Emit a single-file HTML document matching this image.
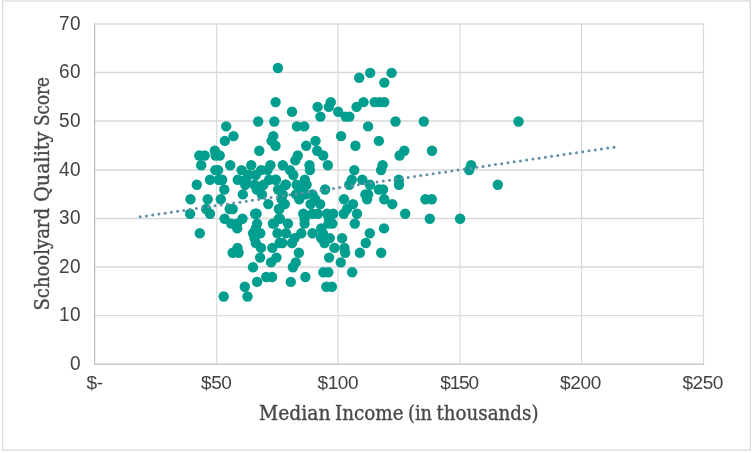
<!DOCTYPE html>
<html><head><meta charset="utf-8"><title>Schoolyard Quality Score vs Median Income</title>
<style>
html,body{margin:0;padding:0;background:#fff;}
body{width:754px;height:453px;overflow:hidden;}
svg{display:block;}
.tick{font-family:"Liberation Sans",sans-serif;font-size:19px;fill:#424242;}
.ty{letter-spacing:0.25px;}
.title{font-family:"DejaVu Serif Condensed","DejaVu Serif","Liberation Serif",serif;font-stretch:condensed;font-size:20px;fill:#484848;stroke:#484848;stroke-width:0.35px;}
</style></head>
<body>
<svg width="754" height="453" viewBox="0 0 754 453">
<rect x="0" y="0" width="754" height="453" fill="#ffffff"/>
<rect x="2.65" y="1.0" width="747.65" height="449.1" fill="#ffffff" stroke="#d9d9d9" stroke-width="1.25"/>
<g stroke="#d9d9d9" stroke-width="1.3" fill="none">
<line x1="94.63" y1="315.55" x2="704.05" y2="315.55"/>
<line x1="94.63" y1="267.00" x2="704.05" y2="267.00"/>
<line x1="94.63" y1="218.50" x2="704.05" y2="218.50"/>
<line x1="94.63" y1="170.00" x2="704.05" y2="170.00"/>
<line x1="94.63" y1="121.00" x2="704.05" y2="121.00"/>
<line x1="94.63" y1="72.50" x2="704.05" y2="72.50"/>
<line x1="94.63" y1="24.00" x2="704.05" y2="24.00"/>
<line x1="216.75" y1="23.45" x2="216.75" y2="364.07" stroke-width="1.2"/>
<line x1="338.00" y1="23.45" x2="338.00" y2="364.07" stroke-width="1.2"/>
<line x1="460.00" y1="23.45" x2="460.00" y2="364.07" stroke-width="1.2"/>
<line x1="581.60" y1="23.45" x2="581.60" y2="364.07" stroke-width="1.2"/>
<line x1="703.50" y1="23.45" x2="703.50" y2="364.07" stroke-width="1.2"/>
</g>
<path d="M94.63 23.45V364.07H704.05" stroke="#bfbfbf" stroke-width="1.25" fill="none" stroke-linejoin="round"/>
<g fill="#009e8e">
<circle cx="277.9" cy="68.0" r="5.2"/><circle cx="275.6" cy="102.1" r="5.2"/><circle cx="292.0" cy="111.8" r="5.2"/><circle cx="258.2" cy="121.5" r="5.2"/><circle cx="274.3" cy="121.5" r="5.2"/><circle cx="226.2" cy="126.4" r="5.2"/><circle cx="296.9" cy="126.4" r="5.2"/><circle cx="304.2" cy="126.4" r="5.2"/><circle cx="370.2" cy="72.9" r="5.2"/><circle cx="391.6" cy="72.9" r="5.2"/><circle cx="359.2" cy="77.8" r="5.2"/><circle cx="384.3" cy="82.6" r="5.2"/><circle cx="330.8" cy="102.1" r="5.2"/><circle cx="363.5" cy="102.1" r="5.2"/><circle cx="374.6" cy="102.1" r="5.2"/><circle cx="379.6" cy="102.1" r="5.2"/><circle cx="384.3" cy="102.1" r="5.2"/><circle cx="317.6" cy="106.9" r="5.2"/><circle cx="328.8" cy="106.9" r="5.2"/><circle cx="356.6" cy="106.9" r="5.2"/><circle cx="338.2" cy="111.8" r="5.2"/><circle cx="320.4" cy="116.6" r="5.2"/><circle cx="345.6" cy="116.6" r="5.2"/><circle cx="349.4" cy="116.6" r="5.2"/><circle cx="395.5" cy="121.5" r="5.2"/><circle cx="368.1" cy="126.4" r="5.2"/><circle cx="423.8" cy="121.5" r="5.2"/><circle cx="518.5" cy="121.5" r="5.2"/><circle cx="233.5" cy="136.1" r="5.2"/><circle cx="224.8" cy="140.9" r="5.2"/><circle cx="273.3" cy="136.1" r="5.2"/><circle cx="271.6" cy="140.9" r="5.2"/><circle cx="275.5" cy="145.8" r="5.2"/><circle cx="259.3" cy="150.7" r="5.2"/><circle cx="214.8" cy="150.7" r="5.2"/><circle cx="199.3" cy="155.5" r="5.2"/><circle cx="204.7" cy="155.5" r="5.2"/><circle cx="215.6" cy="155.5" r="5.2"/><circle cx="219.7" cy="155.5" r="5.2"/><circle cx="201.2" cy="165.2" r="5.2"/><circle cx="230.2" cy="165.2" r="5.2"/><circle cx="251.2" cy="165.2" r="5.2"/><circle cx="270.4" cy="165.2" r="5.2"/><circle cx="282.8" cy="165.2" r="5.2"/><circle cx="215.3" cy="170.1" r="5.2"/><circle cx="218.1" cy="170.1" r="5.2"/><circle cx="241.6" cy="170.1" r="5.2"/><circle cx="261.1" cy="170.1" r="5.2"/><circle cx="267.5" cy="170.1" r="5.2"/><circle cx="210.0" cy="179.8" r="5.2"/><circle cx="218.7" cy="179.8" r="5.2"/><circle cx="222.2" cy="179.8" r="5.2"/><circle cx="237.8" cy="179.8" r="5.2"/><circle cx="245.8" cy="179.8" r="5.2"/><circle cx="248.5" cy="175.0" r="5.2"/><circle cx="255.8" cy="175.0" r="5.2"/><circle cx="341.1" cy="136.1" r="5.2"/><circle cx="315.5" cy="140.9" r="5.2"/><circle cx="306.2" cy="145.8" r="5.2"/><circle cx="355.4" cy="145.8" r="5.2"/><circle cx="317.2" cy="150.7" r="5.2"/><circle cx="297.8" cy="155.5" r="5.2"/><circle cx="323.2" cy="155.5" r="5.2"/><circle cx="295.3" cy="160.4" r="5.2"/><circle cx="309.5" cy="165.2" r="5.2"/><circle cx="327.8" cy="165.2" r="5.2"/><circle cx="290.0" cy="170.1" r="5.2"/><circle cx="309.9" cy="170.1" r="5.2"/><circle cx="354.3" cy="170.1" r="5.2"/><circle cx="293.3" cy="175.0" r="5.2"/><circle cx="378.9" cy="140.9" r="5.2"/><circle cx="404.3" cy="150.7" r="5.2"/><circle cx="432.0" cy="150.7" r="5.2"/><circle cx="399.6" cy="155.5" r="5.2"/><circle cx="382.6" cy="165.2" r="5.2"/><circle cx="381.1" cy="170.1" r="5.2"/><circle cx="471.1" cy="165.2" r="5.2"/><circle cx="469.2" cy="170.1" r="5.2"/><circle cx="497.8" cy="184.7" r="5.2"/><circle cx="460.1" cy="218.7" r="5.2"/><circle cx="196.8" cy="184.7" r="5.2"/><circle cx="224.3" cy="189.5" r="5.2"/><circle cx="242.8" cy="194.4" r="5.2"/><circle cx="190.5" cy="199.3" r="5.2"/><circle cx="207.7" cy="199.3" r="5.2"/><circle cx="220.8" cy="199.3" r="5.2"/><circle cx="268.3" cy="204.1" r="5.2"/><circle cx="229.7" cy="209.0" r="5.2"/><circle cx="232.7" cy="209.0" r="5.2"/><circle cx="206.2" cy="209.0" r="5.2"/><circle cx="210.0" cy="213.8" r="5.2"/><circle cx="190.1" cy="213.8" r="5.2"/><circle cx="255.2" cy="213.8" r="5.2"/><circle cx="256.6" cy="213.8" r="5.2"/><circle cx="224.6" cy="218.7" r="5.2"/><circle cx="242.5" cy="218.7" r="5.2"/><circle cx="231.2" cy="223.6" r="5.2"/><circle cx="237.2" cy="223.6" r="5.2"/><circle cx="257.1" cy="223.6" r="5.2"/><circle cx="272.9" cy="223.6" r="5.2"/><circle cx="278.9" cy="209.0" r="5.2"/><circle cx="278.9" cy="218.7" r="5.2"/><circle cx="269.1" cy="179.8" r="5.2"/><circle cx="275.9" cy="179.8" r="5.2"/><circle cx="245.2" cy="184.7" r="5.2"/><circle cx="254.5" cy="184.7" r="5.2"/><circle cx="263.5" cy="184.7" r="5.2"/><circle cx="285.8" cy="184.7" r="5.2"/><circle cx="256.8" cy="189.5" r="5.2"/><circle cx="261.9" cy="194.4" r="5.2"/><circle cx="281.6" cy="199.3" r="5.2"/><circle cx="275.4" cy="179.8" r="5.2"/><circle cx="304.8" cy="179.8" r="5.2"/><circle cx="351.8" cy="179.8" r="5.2"/><circle cx="362.3" cy="179.8" r="5.2"/><circle cx="285.4" cy="184.7" r="5.2"/><circle cx="296.6" cy="184.7" r="5.2"/><circle cx="306.6" cy="184.7" r="5.2"/><circle cx="349.3" cy="184.7" r="5.2"/><circle cx="369.9" cy="184.7" r="5.2"/><circle cx="325.1" cy="189.5" r="5.2"/><circle cx="278.1" cy="189.5" r="5.2"/><circle cx="301.9" cy="189.5" r="5.2"/><circle cx="305.9" cy="194.4" r="5.2"/><circle cx="296.0" cy="194.4" r="5.2"/><circle cx="312.5" cy="194.4" r="5.2"/><circle cx="282.8" cy="194.4" r="5.2"/><circle cx="365.4" cy="194.4" r="5.2"/><circle cx="368.2" cy="194.4" r="5.2"/><circle cx="299.3" cy="199.3" r="5.2"/><circle cx="315.2" cy="199.3" r="5.2"/><circle cx="344.0" cy="199.3" r="5.2"/><circle cx="367.1" cy="199.3" r="5.2"/><circle cx="284.8" cy="204.1" r="5.2"/><circle cx="310.6" cy="204.1" r="5.2"/><circle cx="320.2" cy="204.1" r="5.2"/><circle cx="353.0" cy="204.1" r="5.2"/><circle cx="279.4" cy="209.0" r="5.2"/><circle cx="347.0" cy="209.0" r="5.2"/><circle cx="303.3" cy="213.8" r="5.2"/><circle cx="312.5" cy="213.8" r="5.2"/><circle cx="317.8" cy="213.8" r="5.2"/><circle cx="327.1" cy="213.8" r="5.2"/><circle cx="333.1" cy="213.8" r="5.2"/><circle cx="343.8" cy="213.8" r="5.2"/><circle cx="357.0" cy="213.8" r="5.2"/><circle cx="279.9" cy="218.7" r="5.2"/><circle cx="304.6" cy="218.7" r="5.2"/><circle cx="329.1" cy="218.7" r="5.2"/><circle cx="288.0" cy="223.6" r="5.2"/><circle cx="274.1" cy="223.6" r="5.2"/><circle cx="304.6" cy="223.6" r="5.2"/><circle cx="328.5" cy="223.6" r="5.2"/><circle cx="332.4" cy="223.6" r="5.2"/><circle cx="354.8" cy="223.6" r="5.2"/><circle cx="398.8" cy="179.8" r="5.2"/><circle cx="399.0" cy="184.7" r="5.2"/><circle cx="378.8" cy="189.5" r="5.2"/><circle cx="383.0" cy="189.5" r="5.2"/><circle cx="384.2" cy="199.3" r="5.2"/><circle cx="425.4" cy="199.3" r="5.2"/><circle cx="431.8" cy="199.3" r="5.2"/><circle cx="392.3" cy="204.1" r="5.2"/><circle cx="405.2" cy="213.8" r="5.2"/><circle cx="429.8" cy="218.7" r="5.2"/><circle cx="384.0" cy="228.4" r="5.2"/><circle cx="237.2" cy="228.4" r="5.2"/><circle cx="255.8" cy="228.4" r="5.2"/><circle cx="199.8" cy="233.3" r="5.2"/><circle cx="253.1" cy="233.3" r="5.2"/><circle cx="260.3" cy="233.3" r="5.2"/><circle cx="277.5" cy="233.3" r="5.2"/><circle cx="254.5" cy="238.1" r="5.2"/><circle cx="255.8" cy="243.0" r="5.2"/><circle cx="279.6" cy="243.0" r="5.2"/><circle cx="237.5" cy="247.9" r="5.2"/><circle cx="261.0" cy="247.9" r="5.2"/><circle cx="272.3" cy="247.9" r="5.2"/><circle cx="232.7" cy="252.7" r="5.2"/><circle cx="238.6" cy="252.7" r="5.2"/><circle cx="260.1" cy="257.6" r="5.2"/><circle cx="276.4" cy="257.6" r="5.2"/><circle cx="271.0" cy="262.4" r="5.2"/><circle cx="253.0" cy="267.3" r="5.2"/><circle cx="266.2" cy="277.0" r="5.2"/><circle cx="272.1" cy="277.0" r="5.2"/><circle cx="321.2" cy="228.4" r="5.2"/><circle cx="322.8" cy="233.3" r="5.2"/><circle cx="286.0" cy="233.3" r="5.2"/><circle cx="301.3" cy="233.3" r="5.2"/><circle cx="312.5" cy="233.3" r="5.2"/><circle cx="369.8" cy="233.3" r="5.2"/><circle cx="294.6" cy="238.1" r="5.2"/><circle cx="321.2" cy="238.1" r="5.2"/><circle cx="329.8" cy="238.1" r="5.2"/><circle cx="342.1" cy="238.1" r="5.2"/><circle cx="282.3" cy="243.0" r="5.2"/><circle cx="292.0" cy="243.0" r="5.2"/><circle cx="324.5" cy="243.0" r="5.2"/><circle cx="365.8" cy="243.0" r="5.2"/><circle cx="334.4" cy="247.9" r="5.2"/><circle cx="344.4" cy="247.9" r="5.2"/><circle cx="298.9" cy="252.7" r="5.2"/><circle cx="345.2" cy="252.7" r="5.2"/><circle cx="359.9" cy="252.7" r="5.2"/><circle cx="381.2" cy="252.7" r="5.2"/><circle cx="329.1" cy="257.6" r="5.2"/><circle cx="295.8" cy="262.4" r="5.2"/><circle cx="340.8" cy="262.4" r="5.2"/><circle cx="292.9" cy="267.3" r="5.2"/><circle cx="323.3" cy="272.2" r="5.2"/><circle cx="328.3" cy="272.2" r="5.2"/><circle cx="352.2" cy="272.2" r="5.2"/><circle cx="305.4" cy="277.0" r="5.2"/><circle cx="257.1" cy="281.9" r="5.2"/><circle cx="290.8" cy="281.9" r="5.2"/><circle cx="244.8" cy="286.7" r="5.2"/><circle cx="326.3" cy="286.7" r="5.2"/><circle cx="331.9" cy="286.7" r="5.2"/><circle cx="223.7" cy="296.5" r="5.2"/><circle cx="247.5" cy="296.5" r="5.2"/>
</g>
<g fill="#6390aa">
<circle cx="140.20" cy="216.80" r="1.5"/><circle cx="146.43" cy="215.88" r="1.5"/><circle cx="152.67" cy="214.97" r="1.5"/><circle cx="158.90" cy="214.05" r="1.5"/><circle cx="165.13" cy="213.14" r="1.5"/><circle cx="171.36" cy="212.22" r="1.5"/><circle cx="177.60" cy="211.31" r="1.5"/><circle cx="183.83" cy="210.39" r="1.5"/><circle cx="190.06" cy="209.47" r="1.5"/><circle cx="196.30" cy="208.56" r="1.5"/><circle cx="202.53" cy="207.64" r="1.5"/><circle cx="208.76" cy="206.73" r="1.5"/><circle cx="214.99" cy="205.81" r="1.5"/><circle cx="221.23" cy="204.89" r="1.5"/><circle cx="227.46" cy="203.98" r="1.5"/><circle cx="233.69" cy="203.06" r="1.5"/><circle cx="239.93" cy="202.15" r="1.5"/><circle cx="246.16" cy="201.23" r="1.5"/><circle cx="252.39" cy="200.32" r="1.5"/><circle cx="258.62" cy="199.40" r="1.5"/><circle cx="264.86" cy="198.48" r="1.5"/><circle cx="271.09" cy="197.57" r="1.5"/><circle cx="277.32" cy="196.65" r="1.5"/><circle cx="283.56" cy="195.74" r="1.5"/><circle cx="289.79" cy="194.82" r="1.5"/><circle cx="296.02" cy="193.91" r="1.5"/><circle cx="302.26" cy="192.99" r="1.5"/><circle cx="308.49" cy="192.07" r="1.5"/><circle cx="314.72" cy="191.16" r="1.5"/><circle cx="320.95" cy="190.24" r="1.5"/><circle cx="327.19" cy="189.33" r="1.5"/><circle cx="333.42" cy="188.41" r="1.5"/><circle cx="339.65" cy="187.49" r="1.5"/><circle cx="345.89" cy="186.58" r="1.5"/><circle cx="352.12" cy="185.66" r="1.5"/><circle cx="358.35" cy="184.75" r="1.5"/><circle cx="364.58" cy="183.83" r="1.5"/><circle cx="370.82" cy="182.92" r="1.5"/><circle cx="377.05" cy="182.00" r="1.5"/><circle cx="383.28" cy="181.08" r="1.5"/><circle cx="389.52" cy="180.17" r="1.5"/><circle cx="395.75" cy="179.25" r="1.5"/><circle cx="401.98" cy="178.34" r="1.5"/><circle cx="408.21" cy="177.42" r="1.5"/><circle cx="414.45" cy="176.51" r="1.5"/><circle cx="420.68" cy="175.59" r="1.5"/><circle cx="426.91" cy="174.67" r="1.5"/><circle cx="433.15" cy="173.76" r="1.5"/><circle cx="439.38" cy="172.84" r="1.5"/><circle cx="445.61" cy="171.93" r="1.5"/><circle cx="451.84" cy="171.01" r="1.5"/><circle cx="458.08" cy="170.09" r="1.5"/><circle cx="464.31" cy="169.18" r="1.5"/><circle cx="470.54" cy="168.26" r="1.5"/><circle cx="476.78" cy="167.35" r="1.5"/><circle cx="483.01" cy="166.43" r="1.5"/><circle cx="489.24" cy="165.52" r="1.5"/><circle cx="495.47" cy="164.60" r="1.5"/><circle cx="501.71" cy="163.68" r="1.5"/><circle cx="507.94" cy="162.77" r="1.5"/><circle cx="514.17" cy="161.85" r="1.5"/><circle cx="520.41" cy="160.94" r="1.5"/><circle cx="526.64" cy="160.02" r="1.5"/><circle cx="532.87" cy="159.11" r="1.5"/><circle cx="539.11" cy="158.19" r="1.5"/><circle cx="545.34" cy="157.27" r="1.5"/><circle cx="551.57" cy="156.36" r="1.5"/><circle cx="557.80" cy="155.44" r="1.5"/><circle cx="564.04" cy="154.53" r="1.5"/><circle cx="570.27" cy="153.61" r="1.5"/><circle cx="576.50" cy="152.69" r="1.5"/><circle cx="582.74" cy="151.78" r="1.5"/><circle cx="588.97" cy="150.86" r="1.5"/><circle cx="595.20" cy="149.95" r="1.5"/><circle cx="601.43" cy="149.03" r="1.5"/><circle cx="607.67" cy="148.12" r="1.5"/><circle cx="613.90" cy="147.20" r="1.5"/>
</g>
<g class="tick ty" text-anchor="end">
<text transform="translate(80.70,369.57) scale(1,1.050)">0</text>
<text transform="translate(80.70,321.05) scale(1,1.050)">10</text>
<text transform="translate(80.70,272.50) scale(1,1.050)">20</text>
<text transform="translate(80.70,224.00) scale(1,1.050)">30</text>
<text transform="translate(80.70,175.50) scale(1,1.050)">40</text>
<text transform="translate(80.70,126.50) scale(1,1.050)">50</text>
<text transform="translate(80.70,78.00) scale(1,1.050)">60</text>
<text transform="translate(80.70,29.50) scale(1,1.050)">70</text>
</g>
<g class="tick tx" text-anchor="middle">
<text x="94.6" y="389.3" style="letter-spacing:-0.45px">$-</text>
<text x="216.2" y="389.3" style="letter-spacing:-0.45px">$50</text>
<text x="337.8" y="389.3" style="letter-spacing:-0.45px">$100</text>
<text x="459.1" y="389.3" style="letter-spacing:-1.20px">$150</text>
<text x="580.6" y="389.3" style="letter-spacing:-0.30px">$200</text>
<text x="702.7" y="389.3" style="letter-spacing:-0.45px">$250</text>
</g>
<text class="title" y="420.30"><tspan x="259.00" textLength="71.50" lengthAdjust="spacingAndGlyphs">Median</tspan> <tspan x="335.00" textLength="68.50" lengthAdjust="spacingAndGlyphs">Income</tspan> <tspan x="408.00" textLength="24.00" lengthAdjust="spacingAndGlyphs">(in</tspan> <tspan x="436.50" textLength="102.00" lengthAdjust="spacingAndGlyphs">thousands)</tspan></text>
<text class="title" transform="translate(49.00,0) rotate(-90) scale(1,1.050)" y="0"><tspan x="-310.50" textLength="102.50" lengthAdjust="spacingAndGlyphs">Schoolyard</tspan> <tspan x="-201.80" textLength="70.00" lengthAdjust="spacingAndGlyphs">Quality</tspan> <tspan x="-126.00" textLength="49.00" lengthAdjust="spacingAndGlyphs">Score</tspan></text>
</svg>
</body></html>
